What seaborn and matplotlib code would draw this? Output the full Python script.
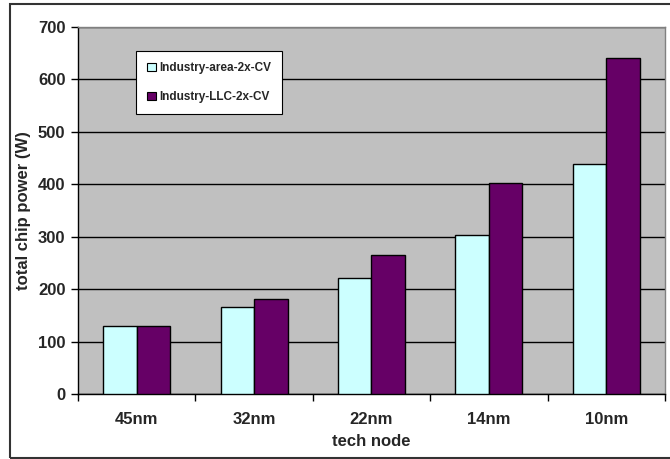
import matplotlib
matplotlib.use("Agg")
import matplotlib.pyplot as plt
from matplotlib.patches import Rectangle
from matplotlib.ticker import FixedLocator, NullFormatter
import seaborn as sns
import pandas as pd

# Chart data
nodes = ["45nm", "32nm", "22nm", "14nm", "10nm"]
area_2x_cv = [129, 166, 221, 303, 439]
llc_2x_cv = [129, 182, 266, 403, 641]
series_names = ["Industry-area-2x-CV", "Industry-LLC-2x-CV"]
y_ticks = [0, 100, 200, 300, 400, 500, 600, 700]

df = pd.DataFrame({
    "node": nodes * 2,
    "power": area_2x_cv + llc_2x_cv,
    "series": [series_names[0]] * len(nodes) + [series_names[1]] * len(nodes),
})

sns.set_theme(style="white")
plt.rcParams["font.family"] = ["Liberation Sans", "DejaVu Sans"]
plt.rcParams["font.weight"] = "bold"

fig = plt.figure(figsize=(6.7, 4.59), dpi=100)
ax = fig.add_axes([0.1164, 0.1416, 0.8761, 0.7996])
ax.set_facecolor("#C0C0C0")

sns.barplot(
    data=df, x="node", y="power", hue="series", order=nodes,
    hue_order=series_names, palette=["#CCFFFF", "#660066"],
    width=0.57, edgecolor="black", linewidth=1.0, saturation=1,
    errorbar=None, ax=ax, zorder=3,
)

ax.set_ylim(0, 700)
ax.set_xlim(-0.5, len(nodes) - 0.5)
ax.set_yticks(y_ticks)
ax.set_yticklabels([str(v) for v in y_ticks], fontsize=12, fontweight="bold")
ax.yaxis.grid(True, color="black", linewidth=1.0, zorder=0)
ax.set_axisbelow(True)

# Category labels centred, tick marks on the boundaries
ax.xaxis.set_major_locator(FixedLocator([i - 0.5 for i in range(len(nodes) + 1)]))
ax.xaxis.set_major_formatter(NullFormatter())
ax.xaxis.set_minor_locator(FixedLocator(list(range(len(nodes)))))
ax.set_xticklabels(nodes, minor=True, fontsize=12, fontweight="bold")
ax.tick_params(axis="x", which="major", direction="out", length=5, width=1, color="black", bottom=True)
ax.tick_params(axis="x", which="minor", length=0, pad=13)
ax.tick_params(axis="y", direction="out", length=5, width=1, color="black", left=True, pad=4)

ax.set_xlabel("tech node", fontsize=12, fontweight="bold", labelpad=5)
ax.set_ylabel("total chip power (W)", fontsize=12, fontweight="bold", labelpad=5)

for side in ["left", "bottom"]:
    ax.spines[side].set_color("black")
    ax.spines[side].set_linewidth(1.0)
for side in ["top", "right"]:
    ax.spines[side].set_color("#808080")
    ax.spines[side].set_linewidth(1.0)

leg = ax.legend(
    loc="upper left", bbox_to_anchor=(0.099, 0.935), borderaxespad=0,
    frameon=True, fancybox=False, edgecolor="black", framealpha=1,
    fontsize=8.5, handlelength=0.7, handleheight=0.7, handletextpad=0.3,
    labelspacing=1.45, borderpad=0.95, title=None,
)
leg.get_frame().set_linewidth(0.8)
for t in leg.get_texts():
    t.set_fontweight("bold")
for h in leg.legend_handles:
    h.set_edgecolor("black")
    h.set_linewidth(0.8)

# Outer chart border
fig.patches.append(Rectangle((10 / 670, 1 / 459), 1.0, 454.5 / 459, transform=fig.transFigure,
                             fill=False, edgecolor="#333333", linewidth=1.5, clip_on=False))

fig.savefig("out.png", dpi=100)
